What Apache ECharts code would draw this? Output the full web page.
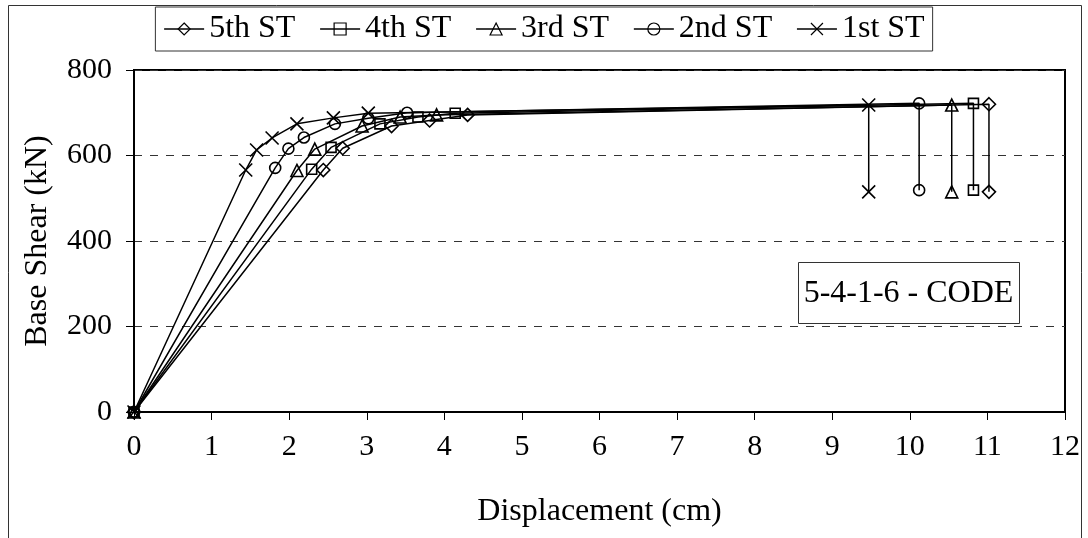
<!DOCTYPE html>
<html>
<head>
<meta charset="utf-8">
<script src="https://cdn.jsdelivr.net/npm/echarts@6/dist/echarts.min.js"></script>
<style>
html,body{margin:0;padding:0;background:#fff;}
#chart{width:1088px;height:538px;}
</style>
</head>
<body>
<div id="chart"></div>
<script>
// ---- data ----
const seriesNames = ['5th ST', '4th ST', '3rd ST', '2nd ST', '1st ST'];

const st5X = [0, 2.44, 2.69, 3.32, 3.81, 4.30, 11.02, 11.02];
const st5Y = [0, 566, 617, 669, 682, 695, 720, 515];

const st4X = [0, 2.29, 2.54, 3.17, 3.66, 4.14, 10.82, 10.82];
const st4Y = [0, 568, 619, 674, 690, 699, 722, 519];

const st3X = [0, 2.10, 2.33, 2.94, 3.43, 3.90, 10.54, 10.54];
const st3Y = [0, 565, 615, 669, 690, 695, 718, 515];

const st2X = [0, 1.82, 1.99, 2.19, 2.59, 3.02, 3.52, 10.12, 10.12];
const st2Y = [0, 571, 616, 642, 674, 687, 700, 722, 519];

const st1X = [0, 1.44, 1.58, 1.78, 2.10, 2.57, 3.02, 9.47, 9.47];
const st1Y = [0, 566, 613, 641, 674, 688, 699, 718, 515];

const xTicks = [0,1,2,3,4,5,6,7,8,9,10,11,12];
const yTicks = [0,200,400,600,800];
const annotation = '5-4-1-6 - CODE';

// ---- chart ----
const FONT = '"Liberation Serif", "Times New Roman", serif';
const pairs = (xs, ys) => xs.map((x, i) => [x, ys[i]]);
const symbols = ['diamond', 'rect', 'triangle', 'circle', 'path://M0,0L10,10M10,0L0,10'];
const sizes = [13, 10, 12, 11, 13];
const datasets = [pairs(st5X, st5Y), pairs(st4X, st4Y), pairs(st3X, st3Y), pairs(st2X, st2Y), pairs(st1X, st1Y)];

const chart = echarts.init(document.getElementById('chart'), null, {renderer: 'canvas'});
chart.setOption({
  animation: false,
  backgroundColor: '#fff',
  textStyle: {fontFamily: FONT, color: '#000'},
  grid: {left: 134, right: 23, top: 70, bottom: 126, show: true, borderColor: '#000', borderWidth: 2, backgroundColor: 'transparent'},
  legend: {
    top: 7, left: 'center',
    data: seriesNames,
    padding: [6, 8, 6, 8],
    borderColor: '#333', borderWidth: 1,
    itemWidth: 40, itemHeight: 15, itemGap: 24,
    textStyle: {fontFamily: FONT, fontSize: 32, color: '#000'},
    itemStyle: {color: 'rgba(255,255,255,0)', borderColor: '#000', borderWidth: 1.2},
    lineStyle: {color: '#000', width: 1.5}
  },
  xAxis: {
    type: 'value', min: 0, max: 12, interval: 1,
    name: 'Displacement (cm)', nameLocation: 'middle', nameGap: 84,
    nameTextStyle: {fontFamily: FONT, fontSize: 32, color: '#000'},
    axisLine: {show: true, lineStyle: {color: '#000', width: 2}},
    axisTick: {show: true, inside: false, length: 8, lineStyle: {color: '#000', width: 1}},
    axisLabel: {fontFamily: FONT, fontSize: 30, color: '#000', margin: 20,
      formatter: v => xTicks.includes(v) ? String(v) : ''},
    splitLine: {show: false}
  },
  yAxis: {
    type: 'value', min: 0, max: 800, interval: 200,
    name: 'Base Shear (kN)', nameLocation: 'middle', nameGap: 80,
    nameTextStyle: {fontFamily: FONT, fontSize: 32, color: '#000'},
    axisLine: {show: true, lineStyle: {color: '#000', width: 2}},
    axisTick: {show: true, inside: false, length: 8, lineStyle: {color: '#000', width: 1}},
    axisLabel: {fontFamily: FONT, fontSize: 30, color: '#000', margin: 22,
      formatter: v => yTicks.includes(v) ? String(v) : ''},
    splitLine: {show: true, lineStyle: {color: '#333', type: [8, 8], width: 1}}
  },
  series: seriesNames.map((name, i) => ({
    name: name,
    type: 'line',
    data: datasets[i],
    symbol: symbols[i],
    symbolSize: sizes[i],
    showAllSymbol: true,
    lineStyle: {color: '#000', width: 1.5},
    itemStyle: {color: 'rgba(255,255,255,0)', borderColor: '#000', borderWidth: 1.6},
    z: 10 - i
  })),
  graphic: [
    {type: 'rect', left: 8, top: 5, silent: true, z: -1,
     shape: {width: 1073, height: 545}, style: {fill: 'transparent', stroke: '#333', lineWidth: 1}},
    {type: 'group', left: 798, top: 262, children: [
      {type: 'rect', shape: {x: 0, y: 0, width: 221, height: 61}, style: {fill: '#fff', stroke: '#333', lineWidth: 1}},
      {type: 'text', x: 110, y: 31, style: {text: annotation, font: '32px ' + FONT, fill: '#000', align: 'center', verticalAlign: 'middle'}}
    ]}
  ]
});
</script>
</body>
</html>
